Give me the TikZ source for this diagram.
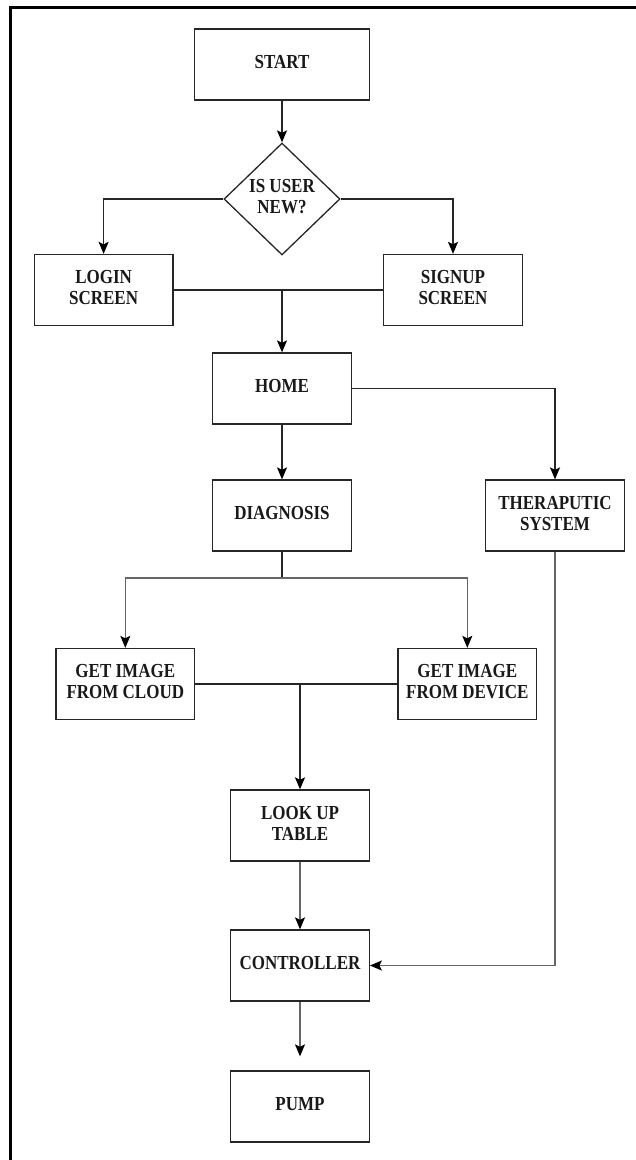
\documentclass[tikz,border=0pt]{standalone}
\usepackage{fontspec}
\usepackage{graphicx}
\setmainfont{Liberation Serif}
\usetikzlibrary{shapes.geometric,arrows.meta}
\newcommand{\txt}[1]{\scalebox{1}[1.17]{\begin{tabular}{@{}c@{}}#1\end{tabular}}}
\tikzset{
  box/.style={draw=black!85, line width=1.3pt, minimum width=138.5pt, minimum height=71pt, inner sep=0pt,
    font=\fontsize{17}{18}\selectfont\bfseries, text=black!90},
  dia/.style={diamond, draw=black!85, line width=1.3pt, minimum width=116pt, minimum height=112pt, inner sep=0pt},
  lbl/.style={font=\fontsize{17}{18}\selectfont\bfseries, text=black!90, inner sep=0pt},
  conn/.style={draw=black!85, line width=1.4pt},
  gconn/.style={draw=black!60, line width=1.4pt},
  arr/.style={-{Stealth[length=12pt,width=10pt,inset=2.5pt,color=black]}},
  frame/.style={draw=black, line width=3pt}
}
\begin{document}
\begin{tikzpicture}[x=1pt,y=-1pt]
\useasboundingbox (0,0) rectangle (636,1160);
\coordinate (fa) at (10,1162);
\coordinate (fb) at (10,7);
\coordinate (fc) at (638,7);
\draw[frame] (fa) -- (fb) -- (fc);

\node[box, minimum width=174.5pt] (start) at (282,64.5) {\txt{START}};
\node[dia] (dec) at (282,199) {};
\node[lbl] (dect) at (282,199) {\txt{IS USER\\NEW?}};
\node[box] (login) at (103.6,290) {\txt{LOGIN\\SCREEN}};
\node[box] (signup) at (453,290) {\txt{SIGNUP\\SCREEN}};
\node[box] (home) at (282,388.5) {\txt{HOME}};
\node[box] (diag) at (282,515.5) {\txt{DIAGNOSIS}};
\node[box] (therap) at (555,515.5) {\txt{THERAPUTIC\\SYSTEM}};
\node[box] (cloud) at (125.3,684) {\txt{GET IMAGE\\FROM CLOUD}};
\node[box] (device) at (467.3,684) {\txt{GET IMAGE\\FROM DEVICE}};
\node[box] (lookup) at (300,825.5) {\txt{LOOK UP\\TABLE}};
\node[box] (ctrl) at (300,965.5) {\txt{CONTROLLER}};
\node[box] (pump) at (300,1106.5) {\txt{PUMP}};

\coordinate (m1) at (282,290);
\coordinate (b1) at (282,578);
\coordinate (m2) at (300,684);

\draw[conn,arr] (start.south) -- (dec.north);
\draw[conn,arr] (dec.west) -| (login.north);
\draw[conn,arr] (dec.east) -| (signup.north);
\draw[conn] (login.east) -- (signup.west);
\draw[conn,arr] (m1) -- (home.north);
\draw[conn,arr] (home.south) -- (diag.north);
\draw[conn,arr] (home.east) -| (therap.north);
\draw[conn] (diag.south) -- (b1);
\draw[gconn,arr] (b1) -| (cloud.north);
\draw[gconn,arr] (b1) -| (device.north);
\draw[conn] (cloud.east) -- (device.west);
\draw[conn,arr,line width=1.9pt] (m2) -- (lookup.north);
\draw[gconn,arr] (lookup.south) -- (ctrl.north);
\draw[gconn,arr] (therap.south) |- (ctrl.east);
\draw[gconn,arr,shorten >=14pt] (ctrl.south) -- (pump.north);
\end{tikzpicture}
\end{document}
